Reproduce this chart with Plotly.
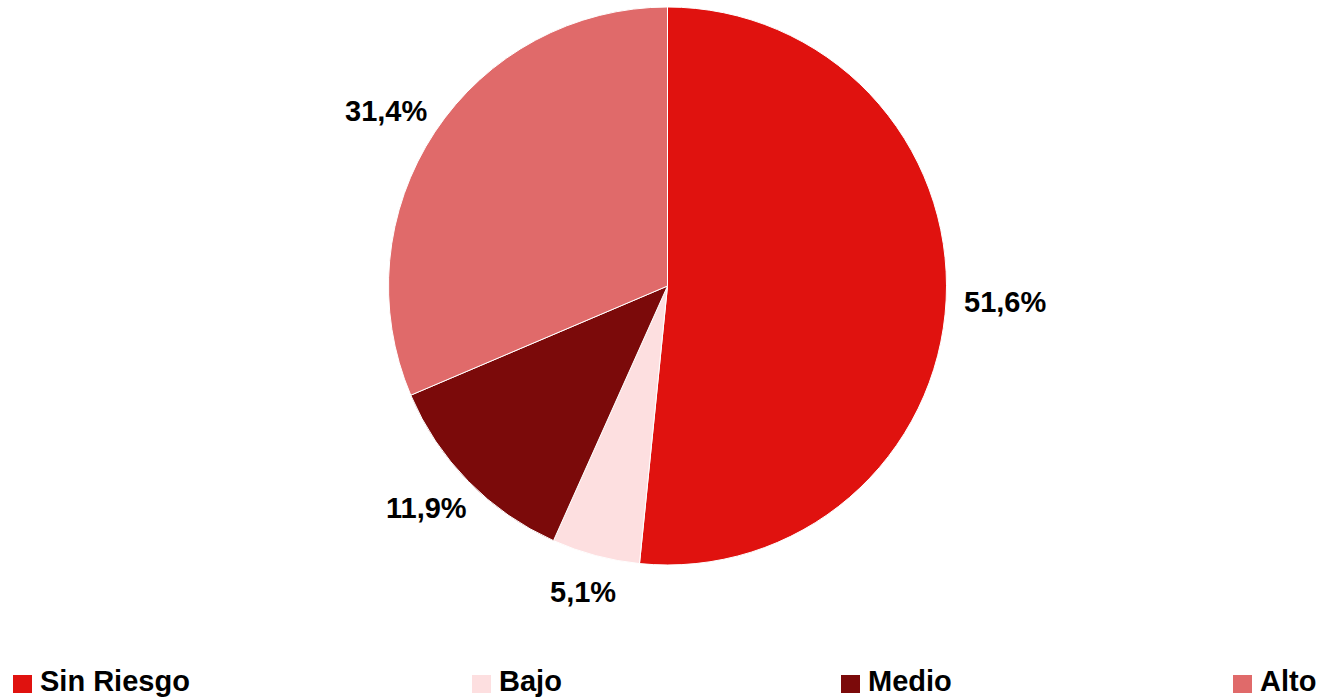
import math
import plotly.graph_objects as go

categories = ["Sin Riesgo", "Bajo", "Medio", "Alto"]
values = [51.6, 5.1, 11.9, 31.4]
colors = ["#E0120F", "#FDDFE0", "#7B0A0A", "#E06A6A"]

W, H = 1322, 699
FONT = "Liberation Sans, Arial, sans-serif"
FS = 29
CX, CY, R = 667.5, 286, 279
GAP = 17.5          # distance from pie edge to label box
HALF_H = 20         # half-height of label box

fig = go.Figure(go.Pie(
    labels=categories,
    values=values,
    marker=dict(colors=colors, line=dict(color="white", width=1)),
    sort=False,
    direction="clockwise",
    rotation=0,
    textinfo="none",
    hole=0,
    showlegend=False,
    domain=dict(x=[(CX - R) / W, (CX + R) / W], y=[1 - (CY + R) / H, 1 - (CY - R) / H]),
))

annotations = []
# percentage labels placed outside each slice at its mid-angle
total = sum(values)
cum = 0.0
for v in values:
    mid = (cum + v / 2) / total * 2 * math.pi
    cum += v
    txt = f"{v:.1f}%".replace(".", ",")
    half_w = len(txt) * 0.283 * FS
    ux, uy = math.sin(mid), -math.cos(mid)
    px = CX + (R + GAP) * ux + half_w * ux
    py = CY + (R + GAP) * uy + HALF_H * uy
    annotations.append(dict(text=f"<b>{txt}</b>",
                            xref="paper", yref="paper", x=px / W, y=1 - py / H,
                            xanchor="center", yanchor="middle", showarrow=False,
                            font=dict(family=FONT, size=FS, color="black")))

# custom legend spread across the bottom
legend_x = [13, 472, 841, 1233]
shapes = []
for cat, col, x0 in zip(categories, colors, legend_x):
    shapes.append(dict(type="rect", xref="paper", yref="paper",
                       x0=x0 / W, x1=(x0 + 19) / W,
                       y0=1 - 693 / H, y1=1 - 675 / H,
                       fillcolor=col, line=dict(width=0)))
    annotations.append(dict(text=f"<b>{cat}</b>", xref="paper", yref="paper",
                            x=(x0 + 25) / W, y=1 - 681 / H,
                            xanchor="left", yanchor="middle", showarrow=False,
                            font=dict(family=FONT, size=FS, color="black")))

fig.update_layout(
    width=W, height=H,
    margin=dict(l=0, r=0, t=0, b=0),
    paper_bgcolor="white",
    plot_bgcolor="white",
    separators=",.",
    shapes=shapes,
    annotations=annotations,
)

fig.write_html("out.html")
